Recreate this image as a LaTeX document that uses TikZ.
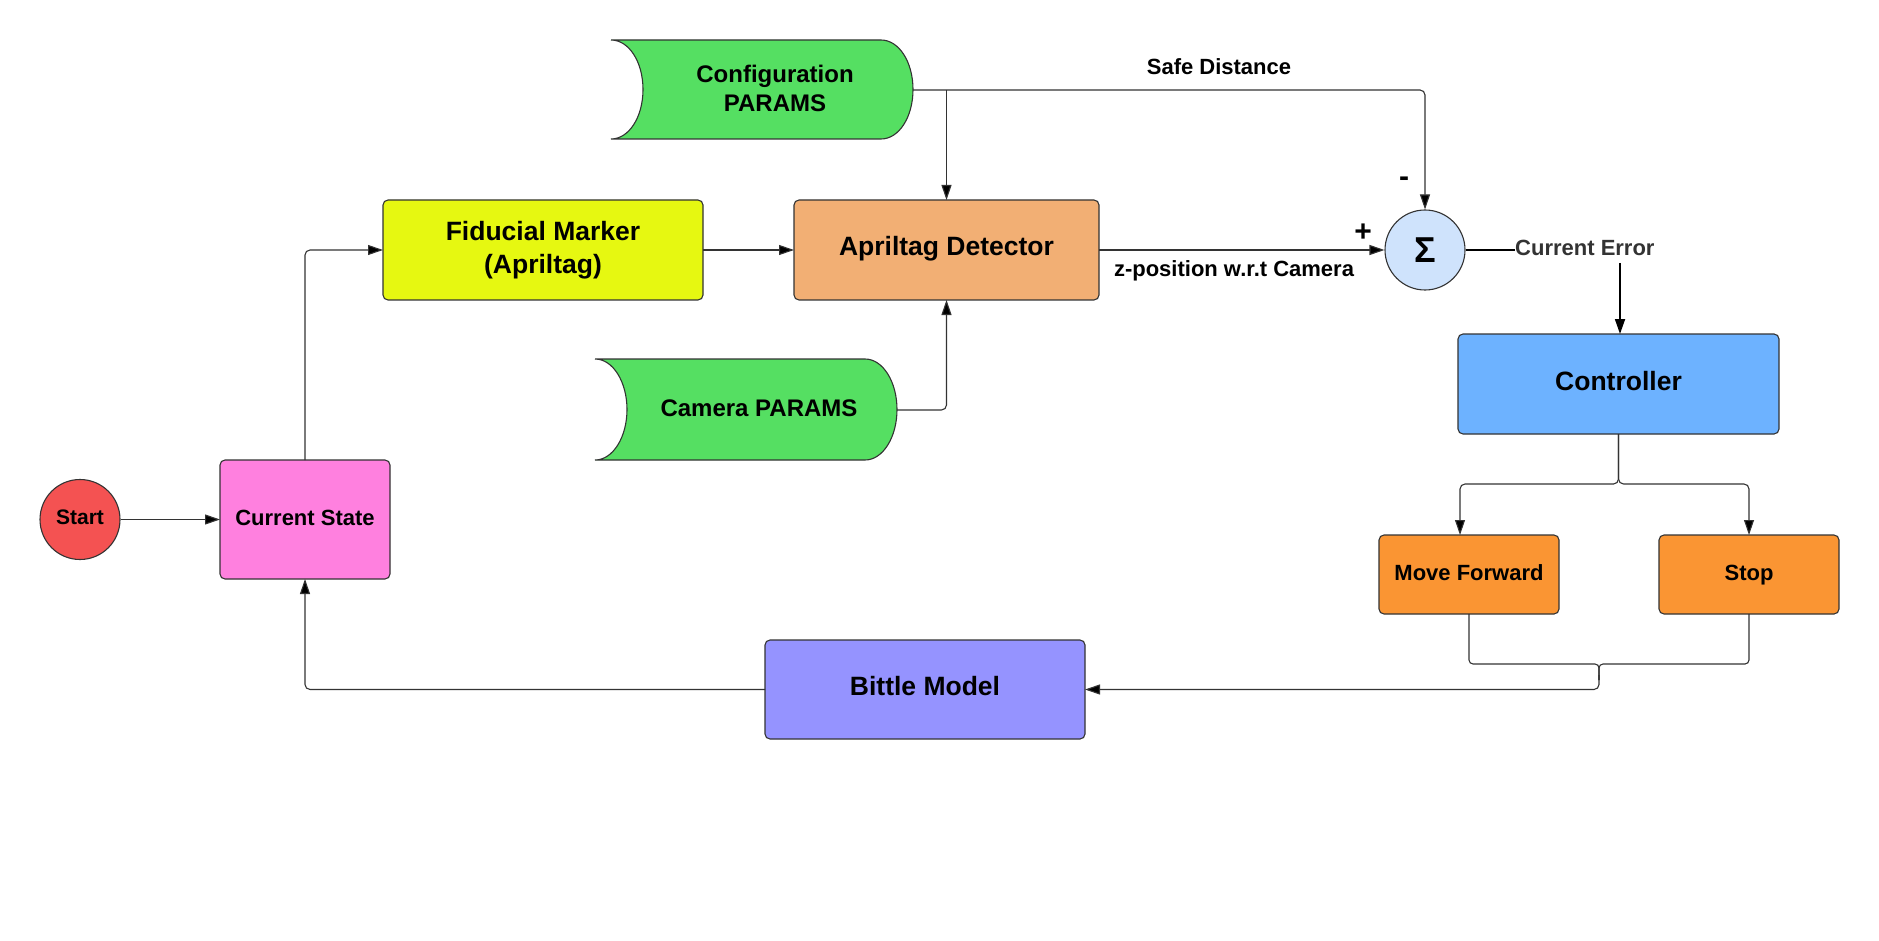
\documentclass[tikz,border=0pt]{standalone}
\usepackage{fontspec}
\setmainfont{Liberation Sans}
\usetikzlibrary{arrows.meta,calc}
\definecolor{cgreen}{HTML}{55DF62}
\definecolor{cyellow}{HTML}{E6F811}
\definecolor{capril}{HTML}{F2AF74}
\definecolor{csig}{HTML}{CFE3FC}
\definecolor{cctrl}{HTML}{6DB2FF}
\definecolor{corange}{HTML}{FA9533}
\definecolor{cbittle}{HTML}{9593FF}
\definecolor{cstate}{HTML}{FF80DF}
\definecolor{cstart}{HTML}{F45252}
\definecolor{cline}{HTML}{333333}
\begin{document}
\begin{tikzpicture}[x=1pt,y=-1pt,
  box/.style={draw=cline,line width=1.1pt,rounded corners=5pt,inner sep=0pt,outer sep=0pt,align=center,font=\bfseries\fontsize{26.5}{33}\selectfont},
  sbox/.style={box,font=\bfseries\fontsize{22}{26}\selectfont},
  bigline/.style={text height=20pt,text depth=8pt},
  smallline/.style={text height=17pt,text depth=6pt},
  lbl/.style={font=\bfseries\fontsize{22}{26}\selectfont,inner sep=0pt},
  conn/.style={draw=cline,line width=1.1pt,rounded corners=5pt},
  arr/.style={conn,-{Triangle[length=15pt,width=10pt,fill=black]}},
  thick arr/.style={draw=black,line width=1.8pt,-{Triangle[length=15pt,width=10pt]}}
]
\useasboundingbox (0,0) rectangle (1879,941);

% stored data shapes
\fill[cgreen] (611,40) -- (881,40) .. controls (899,40) and (913,62) .. (913,89.5) .. controls (913,117) and (899,139) .. (881,139) -- (611,139) .. controls (629,139) and (643,117) .. (643,89.5) .. controls (643,62) and (629,40) .. (611,40) -- cycle;
\draw[cline,line width=1.1pt] (611,40) -- (881,40) .. controls (899,40) and (913,62) .. (913,89.5) .. controls (913,117) and (899,139) .. (881,139) -- (611,139) .. controls (629,139) and (643,117) .. (643,89.5) .. controls (643,62) and (629,40) .. (611,40);
\node[align=center,font=\bfseries\fontsize{24}{29}\selectfont,inner sep=0pt] (cfg) at (775,88) {Configuration\\PARAMS};
\coordinate (cfgR) at (913,90);

\fill[cgreen] (595,359) -- (865,359) .. controls (883,359) and (897,382) .. (897,409.5) .. controls (897,437) and (883,460) .. (865,460) -- (595,460) .. controls (613,460) and (627,437) .. (627,409.5) .. controls (627,382) and (613,359) .. (595,359) -- cycle;
\draw[cline,line width=1.1pt] (595,359) -- (865,359) .. controls (883,359) and (897,382) .. (897,409.5) .. controls (897,437) and (883,460) .. (865,460) -- (595,460) .. controls (613,460) and (627,437) .. (627,409.5) .. controls (627,382) and (613,359) .. (595,359);
\node[font=\bfseries\fontsize{24}{29}\selectfont,inner sep=0pt,anchor=base] (cam) at (759,416.6) {Camera PARAMS};
\coordinate (camR) at (897,410);

% boxes
\node[box,fill=cyellow,minimum width=320pt,minimum height=100pt] (fid) at (543,250) {Fiducial Marker\\(Apriltag)};
\node[box,bigline,fill=capril,minimum width=305pt,minimum height=100pt] (april) at (946.5,250) {Apriltag Detector};
\node[draw=cline,line width=1.1pt,circle,fill=csig,minimum size=80pt,inner sep=0pt,font=\bfseries\fontsize{36}{40}\selectfont] (sig) at (1425,250) {Σ};
\node[box,bigline,fill=cctrl,minimum width=321pt,minimum height=100pt] (ctrl) at (1618.5,384) {Controller};
\node[sbox,smallline,fill=corange,minimum width=180pt,minimum height=79pt] (mf) at (1469,574.5) {Move Forward};
\node[sbox,smallline,fill=corange,minimum width=180pt,minimum height=79pt] (stop) at (1749,574.5) {Stop};
\node[box,bigline,fill=cbittle,minimum width=320pt,minimum height=99pt] (bittle) at (925,689.5) {Bittle Model};
\node[sbox,smallline,fill=cstate,minimum width=170pt,minimum height=119pt] (cs) at (305,519.5) {Current State};
\node[draw=cline,line width=1.1pt,circle,fill=cstart,minimum size=80pt,inner sep=0pt,text height=16pt,text depth=6pt,font=\bfseries\fontsize{21}{25}\selectfont] (start) at (80,519.5) {Start};

% labels
\node[lbl] (safe) at (1219,67) {Safe Distance};
\node[lbl,text=cline,anchor=west] (err) at (1515,248) {Current Error};
\node[lbl] (zlab) at (1234,271) {z-position w.r.t Camera};
\node[inner sep=0pt,font=\bfseries\fontsize{30}{34}\selectfont] (minus) at (1404,182) {-};
\node[inner sep=0pt,font=\bfseries\fontsize{30}{34}\selectfont] (plus) at (1363,233) {+};

% connectors
\draw[arr] (start.east) -- (cs.west);
\draw[arr] (cs.north) |- (fid.west);
\draw[arr] (fid.east) -- (april.west);
\draw[arr] (april.east) -- (sig.west);
\draw[arr] (cfgR) -| (sig.north);
\draw[arr] (cfgR -| april.north) -- (april.north);
\draw[arr] (camR) -| (april.south);
\draw[draw=black,line width=1.8pt] (sig.east) -- (sig.east -| err.west);
\coordinate (errb) at (1620,263);
\draw[thick arr] (errb) -- (errb |- ctrl.north);
\draw[arr] (ctrl.south) -- ++(0,50) -| ([xshift=-9pt]mf.north);
\draw[arr] (ctrl.south) -- ++(0,50) -| (stop.north);
\coordinate (mj) at (1599,664);
\draw[conn,rounded corners=4pt] (mf.south) |- (mj) -- (1599,680);
\draw[conn,rounded corners=4pt] (stop.south) |- (mj) -- (1599,680);
\draw[arr] (1599,675) -- (1599,689.5) -- (bittle.east);
\draw[arr] (bittle.west) -| (cs.south);
\end{tikzpicture}
\end{document}
